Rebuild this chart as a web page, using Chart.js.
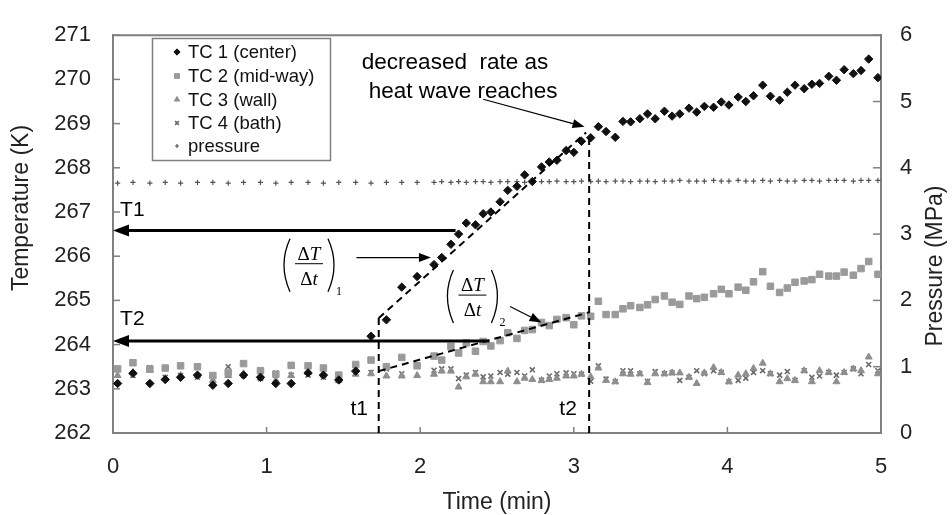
<!DOCTYPE html>
<html>
<head>
<meta charset="utf-8">
<script src="https://cdn.jsdelivr.net/npm/chart.js@4.4.1/dist/chart.umd.min.js"></script>
<style>
html, body { margin: 0; padding: 0; background: #fff; }
</style>
</head>
<body>
<canvas id="myChart" width="952" height="515"></canvas>
<script>
// Time of each reading, min
const times = [
  0.03, 0.13, 0.24, 0.34, 0.44, 0.55, 0.65, 0.75, 0.85, 0.96,
  1.06, 1.16, 1.27, 1.37, 1.47, 1.58, 1.68, 1.78, 1.88, 1.98,
  2.09, 2.14, 2.20, 2.25, 2.30, 2.36, 2.41, 2.46, 2.52, 2.57,
  2.63, 2.68, 2.73, 2.79, 2.84, 2.89, 2.95, 3.00, 3.05, 3.11,
  3.16, 3.21, 3.27, 3.32, 3.37, 3.43, 3.48, 3.53, 3.59, 3.64,
  3.69, 3.75, 3.80, 3.85, 3.91, 3.96, 4.01, 4.07, 4.12, 4.17,
  4.23, 4.28, 4.34, 4.39, 4.44, 4.50, 4.55, 4.60, 4.66, 4.71,
  4.76, 4.82, 4.87, 4.92, 4.98
];
// TC 1 (center), K
const tc1 = [
  263.12, 263.35, 263.12, 263.21, 263.26, 263.31, 263.08, 263.12, 263.31, 263.26,
  263.12, 263.12, 263.36, 263.31, 263.20, 263.40, 264.19, 264.56, 265.30, 265.54,
  265.81, 265.97, 266.27, 266.50, 266.75, 266.71, 266.96, 267.00, 267.23, 267.49,
  267.58, 267.84, 267.69, 268.02, 268.13, 268.17, 268.39, 268.35, 268.60, 268.68,
  268.93, 268.82, 268.69, 269.05, 269.04, 269.11, 269.22, 269.11, 269.28, 269.17,
  269.22, 269.35, 269.26, 269.39, 269.37, 269.49, 269.42, 269.60, 269.50, 269.63,
  269.87, 269.62, 269.53, 269.71, 269.87, 269.79, 269.89, 269.91, 270.07, 269.98,
  270.22, 270.13, 270.20, 270.46, 270.04
];
// TC 2 (mid-way), K
const tc2 = [
  263.45, 263.59, 263.45, 263.47, 263.52, 263.50, 263.30, 263.37, 263.57, 263.41,
  263.33, 263.53, 263.52, 263.47, 263.31, 263.55, 263.65, 263.50, 263.71, 263.52,
  263.74, 263.65, 263.96, 263.81, 264.04, 263.85, 264.07, 263.97, 264.09, 264.27,
  264.14, 264.32, 264.34, 264.50, 264.43, 264.57, 264.61, 264.45, 264.65, 264.64,
  264.98, 264.68, 264.68, 264.81, 264.88, 264.84, 264.90, 265.02, 265.10, 264.96,
  264.91, 265.10, 265.04, 265.07, 265.15, 265.25, 265.15, 265.30, 265.23, 265.42,
  265.65, 265.32, 265.18, 265.28, 265.41, 265.44, 265.47, 265.59, 265.55, 265.55,
  265.64, 265.57, 265.72, 265.88, 265.59
];
// TC 3 (wall), K
const tc3 = [
  263.30, 263.37, 263.42, 263.23, 263.30, 263.30, 263.19, 263.30, 263.34, 263.26,
  263.19, 263.30, 263.37, 263.31, 263.19, 263.33, 263.34, 263.29, 263.29, 263.30,
  263.33, 263.40, 263.40, 263.04, 263.27, 263.33, 263.16, 263.16, 263.16, 263.40,
  263.16, 263.24, 263.21, 263.19, 263.21, 263.24, 263.29, 263.29, 263.33, 263.27,
  263.47, 263.19, 263.16, 263.34, 263.33, 263.34, 263.14, 263.34, 263.34, 263.36,
  263.36, 263.26, 263.12, 263.36, 263.48, 263.37, 263.16, 263.31, 263.34, 263.46,
  263.58, 263.34, 263.16, 263.23, 263.19, 263.41, 263.16, 263.41, 263.37, 263.16,
  263.37, 263.45, 263.41, 263.72, 263.34
];
// TC 4 (bath), K
const tc4 = [
  263.47, 263.30, 263.48, 263.26, 263.30, 263.26, 263.30, 263.50, 263.30, 263.23,
  263.36, 263.31, 263.31, 263.26, 263.19, 263.45, 263.37, 263.45, 263.34, 263.52,
  263.42, 263.45, 263.45, 263.23, 263.31, 263.37, 263.27, 263.29, 263.37, 263.33,
  263.37, 263.29, 263.43, 263.19, 263.29, 263.34, 263.36, 263.34, 263.33, 263.17,
  263.52, 263.22, 263.16, 263.41, 263.41, 263.34, 263.17, 263.39, 263.34, 263.36,
  263.19, 263.26, 263.41, 263.34, 263.41, 263.37, 263.16, 263.19, 263.24, 263.37,
  263.41, 263.34, 263.31, 263.39, 263.19, 263.41, 263.26, 263.29, 263.37, 263.31,
  263.37, 263.45, 263.34, 263.55, 263.41
];
// pressure, MPa (right axis)
const pressure = [
  3.77, 3.78, 3.77, 3.78, 3.77, 3.78, 3.78, 3.77, 3.78, 3.78,
  3.77, 3.78, 3.78, 3.77, 3.78, 3.78, 3.77, 3.78, 3.78, 3.78,
  3.78, 3.79, 3.78, 3.79, 3.78, 3.79, 3.79, 3.78, 3.79, 3.79,
  3.79, 3.78, 3.79, 3.79, 3.79, 3.80, 3.79, 3.79, 3.80, 3.79,
  3.80, 3.79, 3.80, 3.80, 3.79, 3.80, 3.80, 3.79, 3.80, 3.80,
  3.81, 3.80, 3.80, 3.80, 3.81, 3.80, 3.80, 3.81, 3.80, 3.80,
  3.81, 3.80, 3.81, 3.80, 3.80, 3.81, 3.81, 3.80, 3.81, 3.81,
  3.81, 3.80, 3.81, 3.81, 3.81
];
const seriesNames = ['TC 1 (center)', 'TC 2 (mid-way)', 'TC 3 (wall)', 'TC 4 (bath)', 'pressure'];

const SANS = '"Liberation Sans", Arial, sans-serif';
const SERIF = '"Liberation Serif", "Times New Roman", serif';
const AXIS = '#808080';

function pts(vals) {
  return times.map((t, i) => ({ x: t, y: vals[i] }));
}

function arrow(ctx, x1, y1, x2, y2, lw, hl, hw) {
  const a = Math.atan2(y2 - y1, x2 - x1);
  const bx = x2 - hl * Math.cos(a), by = y2 - hl * Math.sin(a);
  ctx.lineWidth = lw;
  ctx.beginPath(); ctx.moveTo(x1, y1); ctx.lineTo(bx, by); ctx.stroke();
  ctx.beginPath();
  ctx.moveTo(x2, y2);
  ctx.lineTo(bx + hw * Math.sin(a), by - hw * Math.cos(a));
  ctx.lineTo(bx - hw * Math.sin(a), by + hw * Math.cos(a));
  ctx.closePath(); ctx.fill();
}

function deltaText(ctx, cx, base, v) {
  ctx.font = '19px ' + SERIF;
  const w1 = ctx.measureText('\u0394').width;
  ctx.font = 'italic 19px ' + SERIF;
  const w2 = ctx.measureText(v).width;
  const x0 = cx - (w1 + w2) / 2;
  ctx.font = '19px ' + SERIF;
  ctx.fillText('\u0394', x0, base);
  ctx.font = 'italic 19px ' + SERIF;
  ctx.fillText(v, x0 + w1, base);
}

function frac(ctx, cx, ly, sub) {
  ctx.textAlign = 'left';
  ctx.textBaseline = 'alphabetic';
  deltaText(ctx, cx, ly - 4, 'T');
  deltaText(ctx, cx, ly + 21, 't');
  ctx.lineWidth = 1;
  ctx.beginPath(); ctx.moveTo(cx - 14, ly); ctx.lineTo(cx + 14, ly); ctx.stroke();
  ctx.lineWidth = 1.3;
  ctx.beginPath(); ctx.moveTo(cx - 19, ly - 25); ctx.quadraticCurveTo(cx - 31, ly + 1, cx - 19, ly + 28); ctx.stroke();
  ctx.beginPath(); ctx.moveTo(cx + 19, ly - 25); ctx.quadraticCurveTo(cx + 31, ly + 1, cx + 19, ly + 28); ctx.stroke();
  ctx.font = '12px ' + SERIF;
  ctx.fillText(sub, cx + 27, ly + 31);
}

// рамка, внутренние засечки, подписи осей
const frame = {
  id: 'frame',
  beforeDatasetsDraw(chart) {
    const { ctx, chartArea: a, scales: { x, y, y2 } } = chart;
    ctx.save();
    ctx.strokeStyle = AXIS;
    ctx.lineWidth = 2;
    ctx.beginPath(); ctx.moveTo(a.left - 1, a.top); ctx.lineTo(a.right + 1, a.top); ctx.stroke();
    ctx.lineWidth = 1.5;
    y.ticks.forEach(t => {
      const p = y.getPixelForValue(t.value);
      ctx.beginPath(); ctx.moveTo(a.left, p); ctx.lineTo(a.left + 7, p); ctx.stroke();
    });
    y2.ticks.forEach(t => {
      const p = y2.getPixelForValue(t.value);
      ctx.beginPath(); ctx.moveTo(a.right, p); ctx.lineTo(a.right - 8, p); ctx.stroke();
    });
    x.ticks.forEach(t => {
      const p = x.getPixelForValue(t.value);
      ctx.beginPath(); ctx.moveTo(p, a.bottom); ctx.lineTo(p, a.bottom - 6); ctx.stroke();
    });
    ctx.fillStyle = '#222';
    ctx.textAlign = 'center';
    ctx.textBaseline = 'middle';
    ctx.font = '23px ' + SANS;
    ctx.fillText('Time (min)', (a.left + a.right) / 2, 503);
    ctx.save(); ctx.translate(22, 208); ctx.rotate(-Math.PI / 2);
    ctx.fillText('Temperature (K)', 0, 0); ctx.restore();
    ctx.save(); ctx.translate(936, 266); ctx.rotate(-Math.PI / 2);
    ctx.fillText('Pressure (MPa)', 0, 0); ctx.restore();
    ctx.restore();
  }
};

// стрелки, пунктир, подписи
const annot = {
  id: 'annot',
  afterDatasetsDraw(chart) {
    const { ctx, scales: { x, y } } = chart;
    const X = v => x.getPixelForValue(v), Y = v => y.getPixelForValue(v);
    ctx.save();
    ctx.strokeStyle = '#000';
    ctx.fillStyle = '#000';

    // dashed rate lines
    ctx.lineWidth = 2;
    ctx.setLineDash([7, 5]);
    const dash = (t1, v1, t2, v2) => {
      ctx.beginPath(); ctx.moveTo(X(t1), Y(v1)); ctx.lineTo(X(t2), Y(v2)); ctx.stroke();
    };
    dash(1.73, 264.6, 3.08, 268.8);
    dash(1.73, 263.40, 3.10, 264.73);
    dash(1.73, 262, 1.73, 264.6);
    dash(3.10, 262, 3.10, 268.7);
    ctx.setLineDash([]);

    // T1 / T2 arrows to the axis
    arrow(ctx, X(2.23), Y(266.58), X(0), Y(266.58), 3, 16, 6);
    arrow(ctx, X(2.45), Y(264.08), X(0), Y(264.08), 3, 16, 6);

    // thin pointer arrows
    arrow(ctx, X(1.585), Y(265.97), X(2.07), Y(265.97), 1.2, 12, 4.5);
    arrow(ctx, X(2.585), Y(264.86), X(2.79), Y(264.50), 1.2, 12, 4.5);
    arrow(ctx, X(2.41), Y(269.55), X(3.07), Y(268.93), 1.2, 12, 4.5);

    // labels
    ctx.font = '21px ' + SANS;
    ctx.textBaseline = 'middle';
    ctx.textAlign = 'left';
    ctx.fillText('T1', X(0.046), Y(267.05));
    ctx.fillText('T2', X(0.046), Y(264.57));
    ctx.textAlign = 'right';
    ctx.fillText('t1', X(1.66), Y(262.53));
    ctx.fillText('t2', X(3.02), Y(262.53));
    ctx.font = '22.5px ' + SANS;
    ctx.textAlign = 'left';
    ctx.textBaseline = 'alphabetic';
    ctx.fillText('decreased  rate as', X(1.62), Y(270.24));
    ctx.fillText('heat wave reaches', X(1.665), Y(269.58));

    frac(ctx, X(1.276), Y(265.83), '1');
    frac(ctx, X(2.34), Y(265.12), '2');
    ctx.restore();
  }
};

// легенда внутри области графика
const boxLegend = {
  id: 'boxLegend',
  afterDraw(chart) {
    const ctx = chart.ctx;
    ctx.save();
    ctx.fillStyle = '#fff';
    ctx.fillRect(153, 39, 177, 121);
    ctx.strokeStyle = AXIS;
    ctx.lineWidth = 1.5;
    ctx.strokeRect(152.5, 38.5, 178, 122);
    const rows = [52, 76, 99.5, 123, 146];
    chart.data.datasets.forEach((ds, i) => {
      ctx.fillStyle = ds.backgroundColor || ds.borderColor;
      ctx.strokeStyle = ds.borderColor;
      ctx.lineWidth = ds.borderWidth;
      Chart.helpers.drawPoint(ctx, {
        pointStyle: ds.pointStyle, radius: ds.pointRadius * 0.75,
        borderWidth: ds.borderWidth, rotation: 0
      }, 177, rows[i]);
      ctx.fillStyle = '#111';
      ctx.font = '18.5px ' + SANS;
      ctx.textAlign = 'left';
      ctx.textBaseline = 'middle';
      ctx.fillText(seriesNames[i], 188, rows[i] + 1);
    });
    ctx.restore();
  }
};

let ctx = document.getElementById('myChart').getContext('2d');
let chart = new Chart(ctx, {
  type: 'scatter',
  data: {
    datasets: [
      { label: seriesNames[0], data: pts(tc1), yAxisID: 'y', pointStyle: 'rectRot', pointRadius: 4.2,
        backgroundColor: '#111', borderColor: '#111', borderWidth: 1 },
      { label: seriesNames[1], data: pts(tc2), yAxisID: 'y', pointStyle: 'rect', pointRadius: 4.6,
        backgroundColor: '#9a9a9a', borderColor: '#9a9a9a', borderWidth: 1 },
      { label: seriesNames[2], data: pts(tc3), yAxisID: 'y', pointStyle: 'triangle', pointRadius: 4,
        backgroundColor: '#8e8e8e', borderColor: '#8e8e8e', borderWidth: 1 },
      { label: seriesNames[3], data: pts(tc4), yAxisID: 'y', pointStyle: 'crossRot', pointRadius: 3.5,
        backgroundColor: '#6a6a6a', borderColor: '#6a6a6a', borderWidth: 1.6 },
      { label: seriesNames[4], data: pts(pressure), yAxisID: 'y2', pointStyle: 'cross', pointRadius: 2.6,
        backgroundColor: '#555', borderColor: '#555', borderWidth: 1.2 }
    ]
  },
  options: {
    responsive: false,
    animation: false,
    devicePixelRatio: 1,
    layout: { padding: { top: 20, left: 0, right: 0, bottom: 0 } },
    plugins: { legend: { display: false }, tooltip: { enabled: false } },
    scales: {
      x: {
        type: 'linear', min: 0, max: 5,
        ticks: { stepSize: 1, padding: 21, color: '#222', font: { family: SANS, size: 22 } },
        grid: { display: false, drawTicks: false },
        border: { color: AXIS, width: 2 },
        afterFit(s) { s.height = 82; }
      },
      y: {
        position: 'left', min: 262, max: 271,
        ticks: { stepSize: 1, padding: 22, color: '#222', font: { family: SANS, size: 22 } },
        grid: { display: false, drawTicks: false },
        border: { color: AXIS, width: 2 },
        afterFit(s) { s.width = 113; }
      },
      y2: {
        position: 'right', min: 0, max: 6,
        ticks: { stepSize: 1, padding: 19, color: '#222', font: { family: SANS, size: 22 } },
        grid: { display: false, drawTicks: false },
        border: { color: AXIS, width: 2 },
        afterFit(s) { s.width = 71; }
      }
    }
  },
  plugins: [frame, annot, boxLegend]
});
</script>
</body>
</html>
